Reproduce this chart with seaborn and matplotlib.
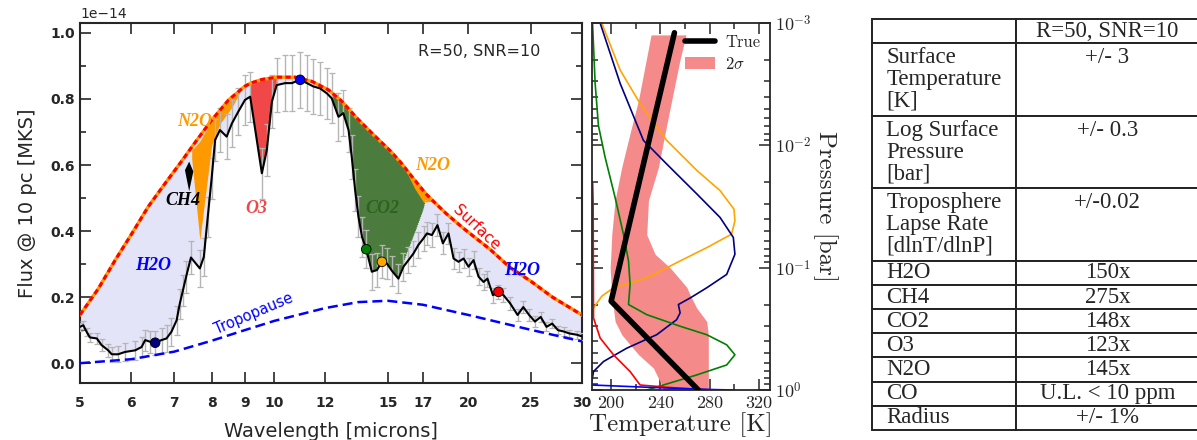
import numpy as np
import matplotlib
matplotlib.use("Agg")
import matplotlib.pyplot as plt
import seaborn as sns
from matplotlib.ticker import MultipleLocator, NullLocator, NullFormatter
from matplotlib.table import Table
from matplotlib.patches import Patch
from matplotlib.lines import Line2D

# ---------------- spectrum panel (flux in units of 1e-14) ----------------
wl_obs = np.array([5.00, 5.06, 5.12, 5.18, 5.31, 5.40, 5.53, 5.60, 5.73, 5.87,
                   6.09, 6.23, 6.31, 6.42, 6.54, 6.69, 6.81, 6.93, 7.06, 7.14,
                   7.22, 7.30, 7.43, 7.67, 7.78, 7.89, 8.00, 8.10, 8.24, 8.44,
                   8.60, 8.80, 9.01, 9.18, 9.57, 9.74, 9.92, 10.09, 10.40, 10.65,
                   10.97, 11.24, 11.50, 11.78, 12.07, 12.28, 12.58, 12.80, 13.04, 13.19,
                   13.35, 13.51, 13.68, 13.89, 14.17, 14.43, 14.69, 14.95, 15.22, 15.58,
                   15.86, 16.15, 16.44, 16.73, 17.04, 17.25, 17.56, 17.91, 18.26, 18.63,
                   18.97, 19.31, 19.66, 20.01, 20.37, 20.74, 21.11, 21.41, 21.83, 22.27,
                   22.67, 23.22, 23.84, 24.33, 24.84, 25.36, 25.89, 26.43, 26.97, 27.54,
                   28.11, 28.69, 29.49, 30.00])
flux_obs = np.array([0.110, 0.115, 0.095, 0.078, 0.075, 0.055, 0.039, 0.027, 0.027, 0.034,
                     0.039, 0.049, 0.070, 0.065, 0.062, 0.070, 0.075, 0.095, 0.130, 0.180,
                     0.220, 0.260, 0.320, 0.287, 0.322, 0.443, 0.560, 0.676, 0.706, 0.686,
                     0.726, 0.762, 0.797, 0.807, 0.575, 0.645, 0.792, 0.842, 0.848, 0.848,
                     0.858, 0.848, 0.838, 0.832, 0.817, 0.802, 0.746, 0.757, 0.706, 0.625,
                     0.524, 0.443, 0.383, 0.345, 0.277, 0.282, 0.307, 0.302, 0.280, 0.256,
                     0.292, 0.312, 0.332, 0.358, 0.378, 0.393, 0.388, 0.418, 0.363, 0.393,
                     0.317, 0.307, 0.317, 0.292, 0.312, 0.262, 0.246, 0.256, 0.206, 0.216,
                     0.206, 0.181, 0.146, 0.170, 0.146, 0.126, 0.140, 0.110, 0.120, 0.100,
                     0.096, 0.090, 0.086, 0.081])
err_obs = np.array([0.012, 0.012, 0.013, 0.014, 0.016, 0.018, 0.020, 0.022, 0.024, 0.026,
                    0.029, 0.031, 0.032, 0.034, 0.036, 0.038, 0.040, 0.042, 0.044, 0.045,
                    0.047, 0.048, 0.050, 0.055, 0.058, 0.060, 0.062, 0.064, 0.066, 0.068,
                    0.070, 0.072, 0.075, 0.076, 0.078, 0.079, 0.080, 0.082, 0.084, 0.085,
                    0.085, 0.084, 0.082, 0.080, 0.078, 0.076, 0.072, 0.070, 0.068, 0.066,
                    0.064, 0.062, 0.060, 0.058, 0.055, 0.052, 0.050, 0.048, 0.046, 0.044,
                    0.042, 0.040, 0.039, 0.038, 0.037, 0.036, 0.035, 0.034, 0.033, 0.032,
                    0.031, 0.030, 0.029, 0.028, 0.027, 0.026, 0.025, 0.024, 0.023, 0.022,
                    0.021, 0.020, 0.019, 0.018, 0.017, 0.016, 0.015, 0.014, 0.014, 0.013,
                    0.013, 0.012, 0.012, 0.011])

surf_wl = np.array([5.0, 5.34, 5.67, 6.02, 6.38, 6.78, 7.19, 7.52, 8.0, 8.5, 9.0, 9.2,
                    9.57, 10.1, 10.78, 11.45, 12.15, 12.3, 12.7, 13.45, 14.25, 15.15,
                    15.72, 16.5, 17.2, 17.7, 18.5, 19.66, 21.6, 23.2, 25.0, 27.0, 30.0])
surf_flux = np.array([0.146, 0.226, 0.312, 0.393, 0.474, 0.545, 0.612, 0.665, 0.736, 0.797,
                      0.838, 0.848, 0.859, 0.866, 0.866, 0.853, 0.827, 0.818, 0.795, 0.741,
                      0.692, 0.642, 0.607, 0.555, 0.512, 0.488, 0.452, 0.408, 0.345, 0.290,
                      0.248, 0.200, 0.146])

trop_wl = np.array([5, 6, 7, 8, 9, 10, 12, 13.5, 15, 17, 20, 25, 30])
trop_flux = np.array([0.0, 0.012, 0.035, 0.068, 0.100, 0.128, 0.167, 0.185, 0.189,
                      0.177, 0.146, 0.101, 0.066])

# absorption feature patches
n2o_a_wl = np.array([7.45, 7.67, 8.0, 8.24, 8.6, 8.85])
n2o_a_lo = np.array([0.62, 0.373, 0.66, 0.725, 0.775, 0.82])
n2o_a_hi = np.array([0.645, 0.672, 0.736, 0.767, 0.80, 0.825])
n2o_b_wl = np.array([15.9, 16.5, 17.05, 17.35, 17.7])
n2o_b_lo = np.array([0.595, 0.53, 0.487, 0.49, 0.488])
n2o_b_hi = np.array([0.598, 0.555, 0.517, 0.50, 0.488])
ch4_wl = np.array([7.26, 7.37, 7.48])
ch4_lo = np.array([0.586, 0.522, 0.582])
ch4_hi = np.array([0.586, 0.612, 0.582])
co2_edge_wl = np.array([16.0, 16.6, 17.04, 17.2])
co2_edge_flux = np.array([0.322, 0.403, 0.464, 0.495])

dot_wl = [6.54, 10.97, 13.89, 14.69, 22.27]
dot_flux = [0.062, 0.858, 0.345, 0.307, 0.216]
dot_names = ['deep', 'surf', 'co2', 'n2o', 'strat']
dot_colors = {'deep': 'navy', 'surf': 'blue', 'co2': 'green', 'n2o': 'orange', 'strat': 'red'}

xticks = [5, 6, 7, 8, 9, 10, 12, 15, 17, 20, 25, 30]
yticks = [0.0, 0.2, 0.4, 0.6, 0.8, 1.0]

# ---------------- temperature / pressure panel ----------------
true_T = [251.4, 200.0, 270.8]
true_P = [1.2e-3, 0.188, 1.0]

band_P = [1.25e-3, 2.0e-3, 4.27e-3, 7.94e-3, 1.51e-2, 2.82e-2, 5.37e-2, 7.76e-2, 0.1,
          0.1445, 0.166, 0.214, 0.275, 0.355, 0.513, 0.661, 0.91, 1.0]
band_lo = [232.4, 228.5, 222.2, 215.4, 208.6, 203.2, 200.5, 199.8, 199.2, 200.1,
           200.5, 201.9, 203.2, 208.8, 222.2, 234.3, 241.1, 242.4]
band_hi = [260.8, 255.9, 249.2, 243.8, 238.4, 230.3, 228.9, 235.7, 247.8, 261.4,
           264.0, 269.5, 277.6, 278.9, 278.9, 278.9, 278.9, 278.9]

cf_orange_T = [192.4, 207.3, 223.5, 245.1, 269.5, 288.4, 299.7, 300.5, 297.8, 277.6,
               256.0, 228.9, 201.9, 192.4, 185.7, 182.0]
cf_orange_P = [1.0e-3, 2.42e-3, 4.55e-3, 9.1e-3, 1.6e-2, 2.34e-2, 3.32e-2, 4.13e-2,
               5.32e-2, 6.86e-2, 8.81e-2, 0.121, 0.146, 0.171, 0.213, 0.26]
cf_navy_T = [191.1, 207.3, 226.2, 245.1, 269.5, 288.4, 299.2, 300.5, 293.8, 277.6,
             264.1, 254.6, 256.0, 253.2, 237.0, 212.7, 193.8, 185.7, 184.3]
cf_navy_P = [1.0e-3, 3.11e-3, 9.1e-3, 1.42e-2, 2.49e-2, 3.88e-2, 5.66e-2, 7.76e-2,
             0.1135, 0.146, 0.177, 0.2, 0.234, 0.266, 0.353, 0.455, 0.585, 0.706, 0.855]
cf_green_T = [184.9, 187.0, 189.7, 195.1, 203.2, 210.0, 214.1, 215.4, 214.1, 228.9,
              256.0, 277.6, 293.8, 300.5, 293.8, 269.5, 242.4, 220.8]
cf_green_P = [1.0e-3, 3.1e-3, 6.9e-3, 1.25e-2, 2.66e-2, 5.32e-2, 8.8e-2, 0.137, 0.2,
              0.242, 0.301, 0.353, 0.427, 0.515, 0.624, 0.753, 0.91, 1.06]
cf_red_T = [185.0, 185.4, 185.7, 191.1, 201.9, 215.4, 223.5, 256.0, 283.0, 300.0]
cf_red_P = [2.0e-2, 3.0e-2, 0.258, 0.376, 0.515, 0.706, 0.91, 0.968, 1.0, 1.02]
cf_blue_T = [184.3, 230.0, 280.0, 300.0]
cf_blue_P = [0.91, 0.95, 0.99, 1.0]

# ---------------- table ----------------
param_names = ['', 'Surface\nTemperature\n[K]', 'Log Surface\nPressure\n[bar]',
               'Troposphere\nLapse Rate\n[dlnT/dlnP]', 'H2O', 'CH4', 'CO2', 'O3',
               'N2O', 'CO', 'Radius']
param_vals = ['R=50, SNR=10', '+/- 3', '+/- 0.3', '+/-0.02', '150x', '275x', '148x',
              '123x', '145x', 'U.L. < 10 ppm', '+/- 1%']

sns.set_style("ticks")
plt.rcParams['font.family'] = ['DejaVu Sans']
plt.rcParams['mathtext.fontset'] = 'cm'

fig = plt.figure(figsize=(11.97, 4.40), dpi=100)

# ======== left: spectrum ========
ax1 = fig.add_axes([0.0668, 0.1295, 0.4194, 0.8182])
ax1.set_xscale('log')

lav = '#e4e4f9'
ax1.fill(np.concatenate([surf_wl, wl_obs[::-1]]),
         np.concatenate([surf_flux, flux_obs[::-1]]), color=lav, lw=0, zorder=1)

# O3
m_o = (wl_obs >= 9.18) & (wl_obs <= 10.09)
s_o = (surf_wl >= 9.18) & (surf_wl <= 10.1)
ax1.fill(np.concatenate([wl_obs[m_o], surf_wl[s_o][::-1]]),
         np.concatenate([flux_obs[m_o], surf_flux[s_o][::-1]]),
         color='#f04848', lw=0, zorder=2)

# CO2
m_c = (wl_obs >= 12.28) & (wl_obs <= 15.58)
s_c = (surf_wl >= 12.28) & (surf_wl <= 17.2)
ax1.fill(np.concatenate([wl_obs[m_c], co2_edge_wl, surf_wl[s_c][::-1]]),
         np.concatenate([flux_obs[m_c], co2_edge_flux, surf_flux[s_c][::-1]]),
         color='#4c7c3d', lw=0, zorder=2)
ax1.plot(np.concatenate([wl_obs[m_c], co2_edge_wl]),
         np.concatenate([flux_obs[m_c], co2_edge_flux]),
         color='white', lw=0.6, ls=':', zorder=2.5)

# N2O, CH4
ax1.fill_between(n2o_a_wl, n2o_a_lo, n2o_a_hi, color='#ff9900', lw=0, zorder=2)
ax1.fill_between(n2o_b_wl, n2o_b_lo, n2o_b_hi, color='#ff9900', lw=0, zorder=2)
ax1.fill_between(ch4_wl, ch4_lo, ch4_hi, color='black', lw=0, zorder=2)

ax1.errorbar(wl_obs, flux_obs, yerr=err_obs, fmt='none', ecolor='#b5b5b5',
             elinewidth=1.0, capsize=2.5, capthick=0.9, zorder=3)

sns.lineplot(x=trop_wl, y=trop_flux, ax=ax1, color='blue', lw=1.8,
             dashes=False, linestyle=(0, (4, 2)), zorder=4)
sns.lineplot(x=surf_wl, y=surf_flux, ax=ax1, color='#ff9900', lw=2.4, zorder=4)
sns.lineplot(x=surf_wl, y=surf_flux, ax=ax1, color='red', lw=2.2,
             linestyle=(0, (1.7, 1.1)), zorder=4.5)
sns.lineplot(x=wl_obs, y=flux_obs, ax=ax1, color='black', lw=1.5, sort=False,
             estimator=None, zorder=5)
sns.scatterplot(x=dot_wl, y=dot_flux, hue=dot_names, palette=dot_colors, ax=ax1,
                s=48, edgecolor='black', linewidth=0.6, legend=False, zorder=6)

mol = dict(family='Liberation Serif', fontweight='bold', fontstyle='italic',
           fontsize=13, ha='center', va='center', zorder=7)
ax1.text(6.5, 0.297, 'H2O', color='blue', **mol)
ax1.text(7.21, 0.494, 'CH4', color='black', **mol)
ax1.text(7.52, 0.731, 'N2O', color='#ff9900', **mol)
ax1.text(9.37, 0.469, 'O3', color='#f04848', **mol)
ax1.text(14.74, 0.469, 'CO2', color='#2c6320', **mol)
ax1.text(17.6, 0.60, 'N2O', color='#ff9900', **mol)
ax1.text(24.2, 0.282, 'H2O', color='blue', **mol)
ax1.text(20.6, 0.41, 'Surface', color='red', fontsize=11, rotation=-43,
         ha='center', va='center', zorder=7)
ax1.text(9.28, 0.150, 'Tropopause', color='blue', fontsize=10.5, rotation=23,
         ha='center', va='center', zorder=7)
ax1.text(20.8, 0.943, 'R=50, SNR=10', fontsize=11.5, ha='center', va='center')
ax1.text(0.0, 1.006, '1e\u221214', transform=ax1.transAxes, fontsize=10,
         ha='left', va='bottom')

ax1.set_xlim(5, 30)
ax1.set_ylim(-0.06, 1.03)
ax1.set_xticks(xticks, labels=[str(t) for t in xticks], fontsize=10, fontweight='bold')
ax1.xaxis.set_minor_locator(NullLocator())
ax1.set_yticks(yticks, labels=['%.1f' % t for t in yticks], fontsize=10, fontweight='bold')
ax1.yaxis.set_minor_locator(MultipleLocator(0.1))
ax1.tick_params(which='both', direction='in', top=True, right=True, width=1.2)
ax1.tick_params(which='major', length=8)
ax1.tick_params(axis='x', which='major', pad=9)
ax1.tick_params(which='minor', length=4)
ax1.set_xlabel('Wavelength [microns]', fontsize=14, labelpad=9)
ax1.set_ylabel('Flux @ 10 pc [MKS]', fontsize=14, labelpad=10)
for sp in ax1.spines.values():
    sp.set_linewidth(1.5)

# ======== middle: T-P profile ========
ax2 = fig.add_axes([0.4946, 0.1136, 0.1487, 0.834])
ax2.set_yscale('log')
ax2.fill_betweenx(band_P, band_lo, band_hi, color='#f58a8a', lw=0, zorder=1)
for T, P, c in [(cf_orange_T, cf_orange_P, 'orange'), (cf_navy_T, cf_navy_P, 'navy'),
                (cf_green_T, cf_green_P, 'green'), (cf_red_T, cf_red_P, 'red'),
                (cf_blue_T, cf_blue_P, 'blue')]:
    sns.lineplot(x=T, y=P, ax=ax2, color=c, lw=1.2, sort=False, estimator=None, zorder=2)
sns.lineplot(x=true_T, y=true_P, ax=ax2, color='black', lw=4, sort=False,
             estimator=None, zorder=3)

ax2.set_xlim(184.5, 329)
ax2.set_ylim(1.0, 1e-3)
ax2.set_xticks([200, 240, 280, 320], labels=['200', '240', '280', '320'],
               fontfamily='cmr10', fontsize=13)
ax2.xaxis.set_minor_locator(MultipleLocator(20))
ax2.yaxis.tick_right()
ax2.yaxis.set_label_position('right')
ax2.set_yticks([1e-3, 1e-2, 1e-1, 1.0],
               labels=[r'$10^{-3}$', r'$10^{-2}$', r'$10^{-1}$', r'$10^{0}$'], fontsize=13)
ax2.yaxis.set_minor_formatter(NullFormatter())
ax2.tick_params(which='both', direction='in', top=True, left=True, right=True, width=1.1)
ax2.tick_params(which='major', length=8)
ax2.tick_params(which='minor', length=4)
ax2.tick_params(axis='x', pad=4)
ax2.set_xlabel('Temperature [K]', fontfamily='cmr10', fontsize=18, labelpad=1)
ax2.set_ylabel('Pressure [bar]', fontfamily='cmr10', fontsize=18, rotation=270,
               va='bottom', labelpad=1)
for sp in ax2.spines.values():
    sp.set_linewidth(1.3)
handles = [Line2D([], [], color='black', lw=4), Patch(color='#f58a8a', lw=0)]
ax2.legend(handles, ['True', r'2$\sigma$'], loc='upper right', bbox_to_anchor=(1.0, 0.995),
           frameon=False, prop={'family': 'cmr10', 'size': 12}, handlelength=1.8,
           handletextpad=0.6, labelspacing=0.35, borderaxespad=0.2)

# ======== right: table ========
ax3 = fig.add_axes([0.7285, 0.0227, 0.2732, 0.934])
ax3.axis('off')
row_lines = [n.count('\n') + 1 for n in param_names]
units = sum(row_lines)
col_w = [144 / 327, 183 / 327]
tb = Table(ax3, bbox=[0, 0, 1, 1])
for i, (name, val, n) in enumerate(zip(param_names, param_vals, row_lines)):
    tb.add_cell(i, 0, col_w[0], n / units, text=name, loc='left')
    tb.add_cell(i, 1, col_w[1], n / units, text=val + '\n' * (n - 1), loc='center')
tb.auto_set_font_size(False)
for cell in tb.get_celld().values():
    cell.set_edgecolor('#222222')
    cell.set_linewidth(1.4)
    t = cell.get_text()
    t.set_fontfamily('Liberation Serif')
    t.set_fontsize(16.5)
    t.set_linespacing(1.06)
ax3.add_table(tb)

fig.savefig('out.png', dpi=100)
